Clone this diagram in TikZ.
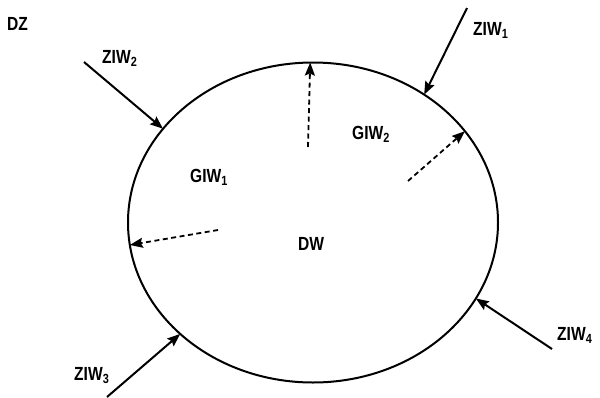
\documentclass[tikz,border=0pt]{standalone}
\usepackage{fontspec}
\setmainfont[FakeStretch=0.82]{Liberation Sans}
\usetikzlibrary{shapes.geometric,arrows.meta}
\tikzset{
  lbl/.style={anchor=base west, inner sep=0pt, font=\fontsize{19}{22}\selectfont\bfseries},
  flow/.style={line width=2pt, -{Stealth[length=13pt,width=10pt,inset=2pt]}},
  inner flow/.style={line width=1.8pt, dash pattern=on 5pt off 3.5pt, -{Stealth[length=13pt,width=10pt,inset=2pt]}},
}
\begin{document}
\begin{tikzpicture}[x=1pt,y=-1pt]
\useasboundingbox (0,0) rectangle (600,397);
\node[ellipse, draw, line width=2pt, minimum width=370pt, minimum height=320pt, inner sep=0pt, outer sep=0pt] (dz) at (313,222.5) {};
% labels
\node[lbl] (ldz) at (7,30) {DZ};
\node[lbl] (lz2) at (102,63) {ZIW\textsubscript{2}};
\node[lbl] (lz1) at (473,35) {ZIW\textsubscript{1}};
\node[lbl] (lg2) at (352,139) {GIW\textsubscript{2}};
\node[lbl] (lg1) at (190,182) {GIW\textsubscript{1}};
\node[lbl] (ldw) at (298,250) {DW};
\node[lbl] (lz3) at (74,380) {ZIW\textsubscript{3}};
\node[lbl] (lz4) at (557,340) {ZIW\textsubscript{4}};
% tails
\coordinate (t2) at (84,62);
\coordinate (t1) at (467,8);
\coordinate (t3) at (107,397);
\coordinate (t4) at (552,349);
\coordinate (d1) at (308,147);
\coordinate (d2) at (408,181);
\coordinate (d3) at (218,230);
% solid inflows
\draw[flow] (t2) -- (dz.148.5);
\draw[flow] (t1) -- (dz.49.9);
\draw[flow] (t3) -- (dz.220.4);
\draw[flow] (t4) -- (dz.-25.4);
% dashed
\draw[inner flow] (d1) -- (dz.91.8);
\draw[inner flow] (d2) -- (dz.31.3);
\draw[inner flow] (d3) -- (dz.187.6);
\end{tikzpicture}
\end{document}
